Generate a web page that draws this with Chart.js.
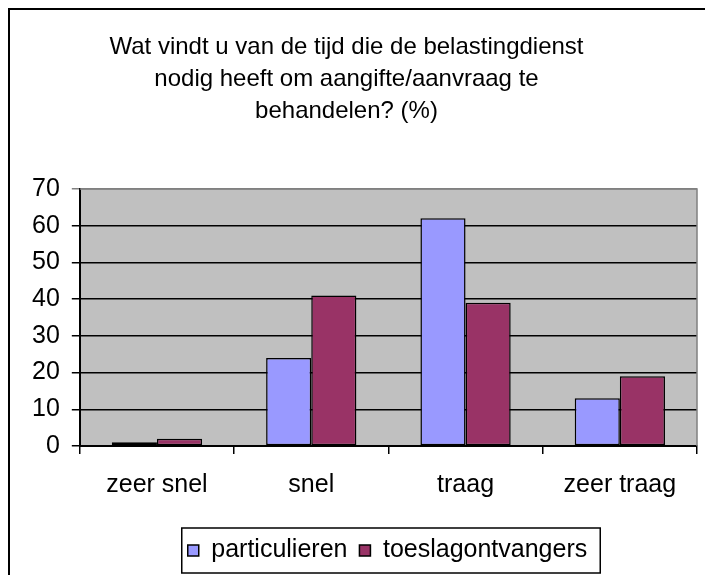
<!DOCTYPE html>
<html>
<head>
<meta charset="utf-8">
<script src="https://cdn.jsdelivr.net/npm/chart.js@4.4.0/dist/chart.umd.min.js"></script>
<style>
    html, body { margin: 0; padding: 0; background: #fff; }
    #wrap { position: relative; width: 705px; height: 575px; }
</style>
</head>
<body>
<div id="wrap"><canvas id="chart"></canvas></div>
<script>
const categories = ['zeer snel', 'snel', 'traag', 'zeer traag'];
const particulieren = [1, 24, 62, 13];
const toeslagontvangers = [2, 41, 39, 19];
const yMin = 0;
const yMax = 70;
const yStep = 10;
const titleLines = [
    'Wat vindt u van de tijd die de belastingdienst',
    'nodig heeft om aangifte/aanvraag te',
    'behandelen? (%)'
];

Chart.defaults.font.family = "'Liberation Sans', Arial, sans-serif";
Chart.defaults.color = '#000';

// grijze achtergrond van het plotvlak, rand rechts/boven en kader om de afbeelding
const excelLook = {
    id: 'excelLook',
    beforeDraw(chart) {
        const ctx = chart.ctx;
        const a = chart.chartArea;
        ctx.save();
        ctx.fillStyle = '#c0c0c0';
        ctx.fillRect(a.left, a.top, a.right - a.left, a.bottom - a.top);
        ctx.restore();
    },
    afterDraw(chart) {
        const ctx = chart.ctx;
        const a = chart.chartArea;
        ctx.save();
        // rand van het plotvlak
        ctx.strokeStyle = '#808080';
        ctx.lineWidth = 1.5;
        ctx.beginPath();
        ctx.moveTo(a.left, a.top);
        ctx.lineTo(a.right, a.top);
        ctx.lineTo(a.right, a.bottom);
        ctx.stroke();
        // kader van de legenda
        const boxes = chart.legend.legendHitBoxes;
        if (boxes && boxes.length) {
            const first = boxes[0];
            const last = boxes[boxes.length - 1];
            const x1 = first.left - 6;
            const x2 = last.left + last.width + 13;
            const y1 = first.top - 10;
            const y2 = first.top + first.height + 10;
            ctx.strokeStyle = '#000';
            ctx.lineWidth = 1.5;
            ctx.strokeRect(x1, y1, x2 - x1, y2 - y1);
        }
        // kader om de hele grafiek (rechts en onder afgesneden)
        ctx.strokeStyle = '#000';
        ctx.lineWidth = 2;
        ctx.beginPath();
        ctx.moveTo(chart.width, 9);
        ctx.lineTo(9, 9);
        ctx.lineTo(9, chart.height);
        ctx.stroke();
        ctx.restore();
    },
    afterLayout(chart) {
        // legenda onder het midden van het plotvlak, titel iets naar links
        chart.legend.left += 29;
        chart.legend.right += 29;
        if (chart.titleBlock) {
            chart.titleBlock.left -= 12;
            chart.titleBlock.right -= 12;
        }
    }
};

new Chart(document.getElementById('chart').getContext('2d'), {
    type: 'bar',
    data: {
        labels: categories,
        datasets: [{
            label: 'particulieren',
            data: particulieren,
            backgroundColor: '#9999ff',
            borderColor: '#000',
            borderWidth: 1.5,
            borderSkipped: false
        }, {
            label: 'toeslagontvangers',
            data: toeslagontvangers,
            backgroundColor: '#993366',
            borderColor: '#000',
            borderWidth: 1.5,
            borderSkipped: false
        }]
    },
    plugins: [excelLook],
    options: {
        responsive: true,
        maintainAspectRatio: false,
        animation: false,
        layout: {
            padding: { left: 20, right: 8, top: 0, bottom: 2 }
        },
        datasets: {
            bar: {
                categoryPercentage: 0.585,
                barPercentage: 1
            }
        },
        plugins: {
            title: {
                display: true,
                text: titleLines,
                color: '#000',
                font: { size: 24, weight: 'normal', lineHeight: 1.333 },
                padding: { top: 31, bottom: 62 }
            },
            legend: {
                position: 'bottom',
                labels: {
                    boxWidth: 11,
                    boxHeight: 11,
                    padding: 12,
                    color: '#000',
                    font: { size: 25 }
                }
            },
            tooltip: { enabled: false }
        },
        scales: {
            x: {
                grid: {
                    offset: true,
                    drawOnChartArea: false,
                    color: '#000',
                    lineWidth: 1.5,
                    tickLength: 8
                },
                border: { color: '#000', width: 2 },
                ticks: {
                    color: '#000',
                    padding: 16,
                    font: { size: 25 }
                },
                afterFit(scale) {
                    scale.height += 10;
                }
            },
            y: {
                min: yMin,
                max: yMax,
                ticks: {
                    stepSize: yStep,
                    color: '#000',
                    padding: 12,
                    font: { size: 25 }
                },
                grid: {
                    color: (c) => c.tick && c.tick.value === yMax ? '#808080' : '#000',
                    lineWidth: 1.5,
                    tickLength: 8
                },
                border: { color: '#000', width: 2 }
            }
        }
    }
});
</script>
</body>
</html>
